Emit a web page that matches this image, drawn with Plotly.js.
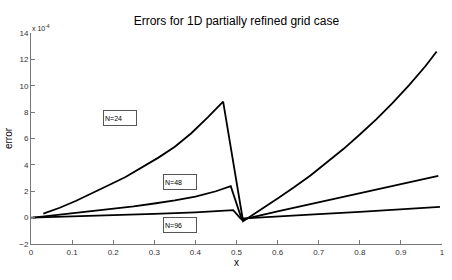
<!DOCTYPE html>
<html>
<head>
<meta charset="utf-8">
<script src="https://cdn.plot.ly/plotly-3.0.1.min.js"></script>
<style>html,body{margin:0;padding:0;background:#fff;}#chart{width:452px;height:280px;}</style>
</head>
<body>
<div id="chart"></div>
<script>
// Errors (x 1e-4)
const x24 = [0.03, 0.07, 0.11, 0.15, 0.19, 0.23, 0.27, 0.31, 0.35, 0.39, 0.43, 0.4675,
             0.516, 0.56, 0.60, 0.64, 0.68, 0.72, 0.76, 0.80, 0.84, 0.88, 0.92, 0.96, 0.987];
const e24 = [0.3, 0.75, 1.28, 1.85, 2.47, 3.08, 3.8, 4.55, 5.37, 6.4, 7.6, 8.8,
             -0.27, 0.6, 1.45, 2.3, 3.2, 4.2, 5.2, 6.3, 7.45, 8.7, 10.05, 11.5, 12.6];

const x48 = [0.005, 0.05, 0.10, 0.15, 0.20, 0.25, 0.30, 0.35, 0.40, 0.45, 0.486,
             0.513, 0.60, 0.70, 0.80, 0.90, 0.991];
const e48 = [0.0, 0.15, 0.3, 0.46, 0.63, 0.85, 1.07, 1.3, 1.6, 2.0, 2.38,
             -0.15, 0.47, 1.17, 1.88, 2.53, 3.17];

const x96 = [0.0, 0.10, 0.20, 0.30, 0.40, 0.492,
             0.51, 0.60, 0.70, 0.80, 0.90, 0.995];
const e96 = [0.0, 0.08, 0.18, 0.28, 0.4, 0.57,
             -0.08, 0.1, 0.27, 0.44, 0.62, 0.82];

const labels = ["N=24", "N=48", "N=96"];
const labelX = [0.216, 0.3625, 0.363];
const labelY = [7.53, 2.71, -0.55];

const xTicks = [0, 0.1, 0.2, 0.3, 0.4, 0.5, 0.6, 0.7, 0.8, 0.9, 1];
const yTicks = [-2, 0, 2, 4, 6, 8, 10, 12, 14];

const lineStyle = {color: '#000', width: 1.8};
const traces = [
  {x: x24, y: e24, mode: 'lines', line: lineStyle, name: labels[0]},
  {x: x48, y: e48, mode: 'lines', line: lineStyle, name: labels[1]},
  {x: x96, y: e96, mode: 'lines', line: lineStyle, name: labels[2]}
];

const font = 'Liberation Sans, Arial, Helvetica, sans-serif';
const annotations = labels.map((t, i) => ({
  x: labelX[i], y: labelY[i], xref: 'x', yref: 'y', text: t, showarrow: false,
  font: {family: font, size: 7, color: '#000'}, bordercolor: '#555', borderwidth: 1,
  borderpad: 1, bgcolor: '#fff', width: 30, height: 12, align: 'left', valign: 'middle'
}));
annotations.push({
  xref: 'paper', yref: 'paper', x: 0, y: 1, xanchor: 'left', yanchor: 'bottom',
  text: 'x 10<sup>-4</sup>', showarrow: false, xshift: -1, yshift: -1,
  font: {family: font, size: 7, color: '#222'}
});

const layout = {
  width: 452, height: 280,
  margin: {l: 31, r: 10, t: 33, b: 36},
  paper_bgcolor: '#fff', plot_bgcolor: '#fff',
  showlegend: false,
  title: {text: 'Errors for 1D partially refined grid case', x: 0.523, xanchor: 'center', y: 0.925, yanchor: 'middle',
          font: {family: font, size: 12, color: '#000'}},
  xaxis: {range: [0, 1], tickvals: xTicks, ticktext: xTicks.map(String), ticks: 'inside', ticklen: 4,
          tickcolor: '#777', showline: true, linecolor: '#777', linewidth: 1, showgrid: false, zeroline: false,
          tickfont: {family: font, size: 8, color: '#333'},
          title: {text: 'x', font: {family: font, size: 10, color: '#000'}, standoff: 3}},
  yaxis: {range: [-2, 14], tickvals: yTicks, ticks: 'inside', ticklen: 4,
          tickcolor: '#777', showline: true, linecolor: '#777', linewidth: 1, showgrid: false, zeroline: false,
          tickfont: {family: font, size: 8, color: '#333'},
          title: {text: 'error', font: {family: font, size: 10, color: '#000'}, standoff: 4}},
  annotations: annotations
};

Plotly.newPlot('chart', traces, layout, {staticPlot: true, displayModeBar: false});
</script>
</body>
</html>
